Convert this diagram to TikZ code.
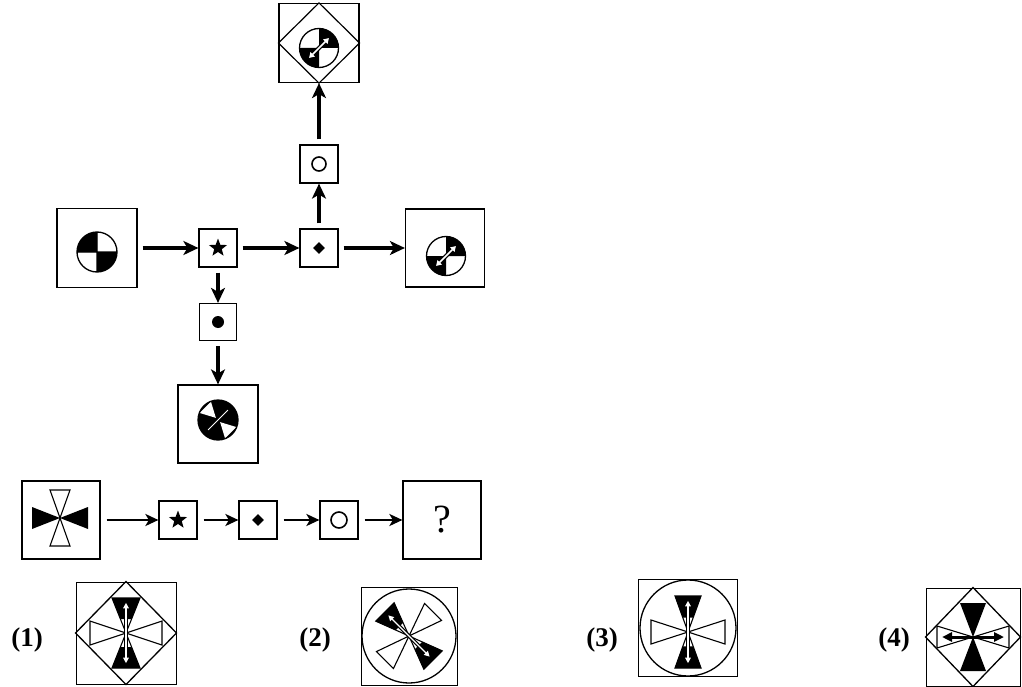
\documentclass[tikz,border=0pt]{standalone}
\usepackage{fontspec}
\newfontfamily\askfont{Liberation Serif}
\usetikzlibrary{arrows.meta,shapes.geometric}

\tikzset{
  bigbox/.style={draw,line width=1.2pt,minimum width=80pt,minimum height=79pt,inner sep=0pt},
  opbox/.style={draw,line width=1.2pt,minimum size=38pt,inner sep=0pt},
  optbox/.style={draw,line width=1pt,inner sep=0pt},
  flow/.style={line width=3.4pt,shorten <=5pt,-{Stealth[length=15pt,width=14pt,inset=4pt]}},
  chain/.style={line width=2.6pt,shorten <=6pt,-{Stealth[length=13pt,width=12pt,inset=3.5pt]}},
  lbl/.style={font=\askfont\bfseries\fontsize{27}{27}\selectfont},
  pics/quaddisc/.style={code={
    \fill (0,0) -- (0,20) arc[start angle=90,end angle=180,radius=20] -- cycle;
    \fill (0,0) -- (0,-20) arc[start angle=270,end angle=360,radius=20] -- cycle;
    \draw[line width=1.3pt] (0,0) circle[radius=20] (-20,0) -- (20,0) (0,20) -- (0,-20);
  }},
  pics/arrowdisc/.style={code={
    \fill (0,0) -- (19.5,0) arc[start angle=0,end angle=90,radius=19.5] -- cycle;
    \fill (0,0) -- (-19.5,0) arc[start angle=180,end angle=270,radius=19.5] -- cycle;
    \draw[line width=1.3pt] (0,0) circle[radius=19.5];
    \draw[line width=4pt,{Triangle[length=8pt,width=10pt]}-{Triangle[length=8pt,width=10pt]}] (225:16) -- (45:16);
    \draw[white,line width=1.6pt,{Triangle[length=5pt,width=6pt]}-{Triangle[length=5pt,width=6pt]}] (225:14) -- (45:14);
  }}
}

% wing = one triangle of a bow tie: angle, length, half base
\newcommand{\whitewing}[3]{%
  \draw[line width=1.1pt,fill=white,rotate=#1] (0,0) -- (#2,#3) -- (#2,-#3) -- cycle;}
\newcommand{\blackwing}[3]{%
  \draw[line width=1.1pt,rotate=#1] (0,0) -- (#2,#3) -- (#2,-#3) -- cycle;
  \fill[rotate=#1] (0.4*#2,0.4*#3) -- (#2,#3) -- (#2,-#3) -- (0.4*#2,-0.4*#3) -- cycle;}
\newcommand{\wingarrow}[2]{%
  \draw[rotate=#1,line width=3.6pt,{Triangle[length=9pt,width=10pt]}-{Triangle[length=9pt,width=10pt]}] (-#2,0) -- (#2,0);
  \draw[rotate=#1,white,line width=1.3pt,{Triangle[length=5.5pt,width=5.5pt]}-{Triangle[length=5.5pt,width=5.5pt]}] (-#2+1.8,0) -- (#2-1.8,0);}

\begin{document}
\begin{tikzpicture}[x=1pt,y=1pt]
    \useasboundingbox (0,0) rectangle (1022,-687);

    % example figures
    \node[bigbox] (src) at (97,-248) {};
    \node[opbox] (star1) at (218,-248) {};
    \node[opbox] (diam1) at (319,-248) {};
    \node[bigbox,minimum width=79pt,minimum height=78pt] (rgt) at (445,-248) {};
    \node[opbox] (circ1) at (319,-164) {};
    \node[bigbox] (top) at (319,-43) {};
    \node[opbox,minimum size=37pt] (dot1) at (218,-322) {};
    \node[bigbox,minimum height=78pt] (bot) at (218,-424) {};

    \begin{scope}[every node/.style={inner sep=0pt,fill=black}]
        \node[star,star points=5,star point ratio=2.4,minimum size=19pt] (s1) at (star1) {};
        \node[diamond,minimum size=12pt] (d1) at (diam1) {};
        \node[circle,minimum size=12pt] (p1) at (dot1) {};
    \end{scope}
    \node[circle,draw,line width=1.6pt,minimum size=14pt,inner sep=0pt] (o1) at (circ1) {};

    \pic at (97,-252) {quaddisc};
    \pic at (446,-256) {arrowdisc};
    \draw[line width=1.2pt] (top.north) -- (top.east) -- (top.south) -- (top.west) -- cycle;
    \pic at (319,-48) {arrowdisc};
    \begin{scope}[shift={(218,-420)}]
        \fill (0,0) circle[radius=20];
        \fill[white,rotate=135] (3,0) -- (18,8) -- (18,-8) -- cycle;
        \fill[white,rotate=-45] (3,0) -- (18,8) -- (18,-8) -- cycle;
        \draw[white,line width=0.8pt] (45:14) -- (225:14);
        \draw[line width=1.3pt] (0,0) circle[radius=20];
    \end{scope}

    \draw[flow] (src) -- (star1);
    \draw[flow] (star1) -- (diam1);
    \draw[flow] (diam1) -- (rgt);
    \draw[flow] (diam1) -- (circ1);
    \draw[flow] (circ1) -- (top);
    \draw[flow] (star1) -- (dot1);
    \draw[flow] (dot1) -- (bot);

    % question row
    \node[bigbox,minimum width=78pt,minimum height=78pt] (q0) at (61,-520) {};
    \node[opbox] (star2) at (178,-520) {};
    \node[opbox] (diam2) at (258,-520) {};
    \node[opbox] (circ2) at (339,-520) {};
    \node[bigbox,minimum width=78pt,minimum height=78pt,font=\askfont\fontsize{40}{40}\selectfont] (ques) at (442,-520) {?};

    \begin{scope}[every node/.style={inner sep=0pt,fill=black}]
        \node[star,star points=5,star point ratio=2.4,minimum size=19pt] (s2) at (star2) {};
        \node[diamond,minimum size=12pt] (d2) at (diam2) {};
    \end{scope}
    \node[circle,draw,line width=1.6pt,minimum size=16pt,inner sep=0pt] (o2) at (circ2) {};

    \begin{scope}[shift={(60,-518)}]
        \fill (0,0) -- (-28,11) -- (-28,-11) -- cycle;
        \fill (0,0) -- (28,11) -- (28,-11) -- cycle;
        \draw[line width=1.1pt] (0,0) -- (-10,28) -- (10,28) -- cycle;
        \draw[line width=1.1pt] (0,0) -- (-10,-28) -- (10,-28) -- cycle;
    \end{scope}

    \draw[chain] (q0) -- (star2);
    \draw[chain] (star2) -- (diam2);
    \draw[chain] (diam2) -- (circ2);
    \draw[chain] (circ2) -- (ques);

    % answer choices
    \node[lbl] (lab1) at (27,-640) {(1)};
    \node[lbl] (lab2) at (315,-640) {(2)};
    \node[lbl] (lab3) at (602,-640) {(3)};
    \node[lbl] (lab4) at (894,-640) {(4)};

    \node[optbox,minimum width=100pt,minimum height=102pt] (box1) at (126,-633) {};
    \node[optbox,minimum width=96pt,minimum height=98pt] (box2) at (409,-636) {};
    \node[optbox,minimum width=99pt,minimum height=97pt] (box3) at (688,-628) {};
    \node[optbox,minimum width=94pt,minimum height=98pt] (box4) at (973,-637) {};

    \draw[line width=1.3pt] (box1.north) -- (box1.east) -- (box1.south) -- (box1.west) -- cycle;
    \begin{scope}[shift={(box1.center)}]
        \whitewing{0}{36}{12}
        \whitewing{180}{36}{12}
        \blackwing{90}{35}{14}
        \blackwing{270}{35}{14}
        \wingarrow{90}{32}
    \end{scope}

    \draw[line width=1.3pt] (box2.center) circle[radius=47];
    \begin{scope}[shift={(box2.center)}]
        \whitewing{45}{34}{12}
        \whitewing{225}{34}{12}
        \blackwing{135}{34}{13}
        \blackwing{315}{34}{13}
        \wingarrow{135}{31}
    \end{scope}

    \draw[line width=1.3pt] (box3.center) circle[radius=48];
    \begin{scope}[shift={(688,-632)}]
        \whitewing{0}{37}{12}
        \whitewing{180}{37}{12}
        \blackwing{90}{36}{13}
        \blackwing{270}{36}{13}
        \wingarrow{90}{33}
    \end{scope}

    \draw[line width=1.3pt] (box4.north) -- (box4.east) -- (box4.south) -- (box4.west) -- cycle;
    \begin{scope}[shift={(box4.center)}]
        \fill (0,0) -- (-13,34) -- (13,34) -- cycle;
        \fill (0,0) -- (-13,-34) -- (13,-34) -- cycle;
        \whitewing{0}{36}{11}
        \whitewing{180}{36}{11}
        \draw[line width=3pt,{Triangle[length=10pt,width=9pt]}-{Triangle[length=10pt,width=9pt]}] (-31,0) -- (31,0);
    \end{scope}
\end{tikzpicture}
\end{document}
